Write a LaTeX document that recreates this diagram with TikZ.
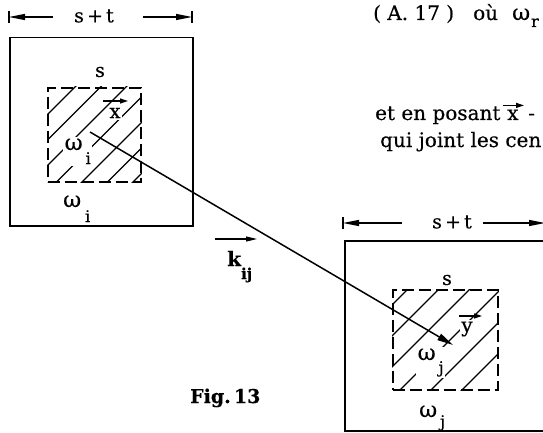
\documentclass[tikz,border=0pt]{standalone}
\usepackage{fontspec}
\setmainfont{DejaVu Serif}[FakeBold=0.4]
\usetikzlibrary{arrows.meta}
\newcommand\omlab[3]{{\fontsize{22}{22}\selectfont ω}\kern#2\raisebox{-#3}{\fontsize{16}{16}\selectfont #1}}
\begin{document}
\begin{tikzpicture}[x=1pt,y=-1pt,
  lbl/.style={inner sep=0pt, font=\fontsize{19}{19}\selectfont},
  txt/.style={inner sep=0pt, font=\fontsize{20}{20}\selectfont},
  mask/.style={lbl, fill=white, inner sep=1.5pt},
  outerbox/.style={draw, line width=1.5pt, inner sep=0pt, anchor=north west},
  innerbox/.style={draw, line width=1.8pt, dash pattern=on 12pt off 5pt, inner sep=0pt, anchor=north west},
  hatch/.style={line width=1.1pt},
  dim/.style={line width=1.1pt, -{Triangle[length=16pt,width=6pt]}},
  tickline/.style={line width=1.3pt},
  mainarrow/.style={line width=1.5pt, -{Triangle[length=16pt,width=7pt]}},
  vecar/.style={line width=1.2pt, -{Triangle[length=8pt,width=5pt]}},
]
\useasboundingbox (0,0) rectangle (543,433);
\clip (0,0) rectangle (543,433);

% boxes
\node[outerbox, minimum width=183pt, minimum height=188pt] (Oi) at (9,37) {};
\node[innerbox, minimum width=93pt, minimum height=94pt] (Si) at (47,87) {};
\node[outerbox, minimum width=202pt, minimum height=190pt] (Oj) at (344,240) {};
\node[innerbox, minimum width=105pt, minimum height=100pt] (Sj) at (392,289) {};

% hatching
\begin{scope}
  \clip (Si.south west) rectangle (Si.north east);
  \foreach \c in {162,187.5,213,238.5,264,289.5,315}
    \draw[hatch] (\c-190,190) -- (\c-80,80);
\end{scope}
\begin{scope}
  \clip (Sj.south west) rectangle (Sj.north east);
  \foreach \c in {697,728,759,790,821,852}
    \draw[hatch] (\c-395,395) -- (\c-285,285);
\end{scope}

% labels in left box
\node[lbl] (sI) at (100,72) {s};
\node[mask, font=\fontsize{20}{20}\selectfont] (xl) at (115,113) {x};
\draw[vecar] ([xshift=-12pt,yshift=12pt]xl.center) -- ([xshift=13pt,yshift=12pt]xl.center);
\node[mask, anchor=base west] (wi) at (63,150) {\omlab{i}{3pt}{14pt}};
\node[lbl, anchor=base west] (wI) at (63,207) {\omlab{i}{4pt}{15pt}};

% labels in right box
\node[lbl] (sJ) at (447,280) {s};
\node[mask, font=\fontsize{20}{20}\selectfont] (yl) at (467,329) {y};
\draw[vecar] ([xshift=-8pt,yshift=13pt]yl.center) -- ([xshift=15pt,yshift=13pt]yl.center);
\node[mask, anchor=base west] (wj) at (416,360) {\omlab{j}{3pt}{13pt}};
\node[lbl, anchor=base west] (wJ) at (419,417) {\omlab{j}{3pt}{10pt}};

% redraw dashed borders on top of masks
\node[innerbox, minimum width=93pt, minimum height=94pt] at (47,87) {};
\node[innerbox, minimum width=105pt, minimum height=100pt] at (392,289) {};

% main arrow
\coordinate (xs) at (90,132);
\coordinate (ye) at (453,345);
\draw[mainarrow] (xs) -- (ye);

% k_ij
\node[lbl, anchor=base west, font=\bfseries\fontsize{20}{20}\selectfont] (k) at (227,266) {k\raisebox{-13pt}{\fontsize{15}{15}\selectfont ij}};
\coordinate (ka) at (215,239);
\coordinate (kb) at (257,239);
\draw[vecar, -{Triangle[length=11pt,width=5pt]}] (ka) -- (kb);

% dimension lines, left
\coordinate (tL1) at (9,17);
\coordinate (tL2) at (192,17);
\coordinate (aL1) at (53,17);
\coordinate (aL2) at (143,17);
\node[lbl] (dL) at (94,16) {s\,+\,t};
\draw[tickline] ([yshift=6pt]tL1) -- ([yshift=-6pt]tL1);
\draw[tickline] ([yshift=6pt]tL2) -- ([yshift=-6pt]tL2);
\draw[dim] (aL1) -- (tL1);
\draw[dim] (aL2) -- (tL2);

% dimension lines, right
\coordinate (tR1) at (343,223);
\coordinate (tR2) at (545,223);
\coordinate (aR1) at (402,223);
\coordinate (aR2) at (483,223);
\node[lbl] (dR) at (452,222) {s\,+\,t};
\draw[tickline] ([yshift=6pt]tR1) -- ([yshift=-6pt]tR1);
\draw[tickline] ([yshift=6pt]tR2) -- ([yshift=-6pt]tR2);
\draw[dim] (aR1) -- (tR1);
\draw[dim] (aR2) -- (tR2);

% caption
\node[lbl, anchor=base west, font=\bfseries\fontsize{19}{19}\selectfont] (fig) at (190,403) {Fig.\,13};

% surrounding text (cropped at the right edge, as in the reference)
\node[txt, anchor=base west] (eq) at (373,20) {( A. 17 )};
\node[txt, anchor=base west] (eq2) at (473,20) {où};
\node[txt, anchor=base west] (eq3) at (512,20) {\omlab{r}{1pt}{7pt}};
\node[txt, anchor=base west] (t1) at (375,120) {et en posant};
\node[txt, anchor=base west] (t1x) at (507,120) {x};
\node[txt, anchor=base west] (t1m) at (528,120) {-};
\draw[vecar] ([xshift=-4pt,yshift=4pt]t1x.north west) -- ([xshift=17pt,yshift=4pt]t1x.north west);
\node[txt, anchor=base west] (t2) at (380,147) {qui joint les cen};
\end{tikzpicture}
\end{document}
